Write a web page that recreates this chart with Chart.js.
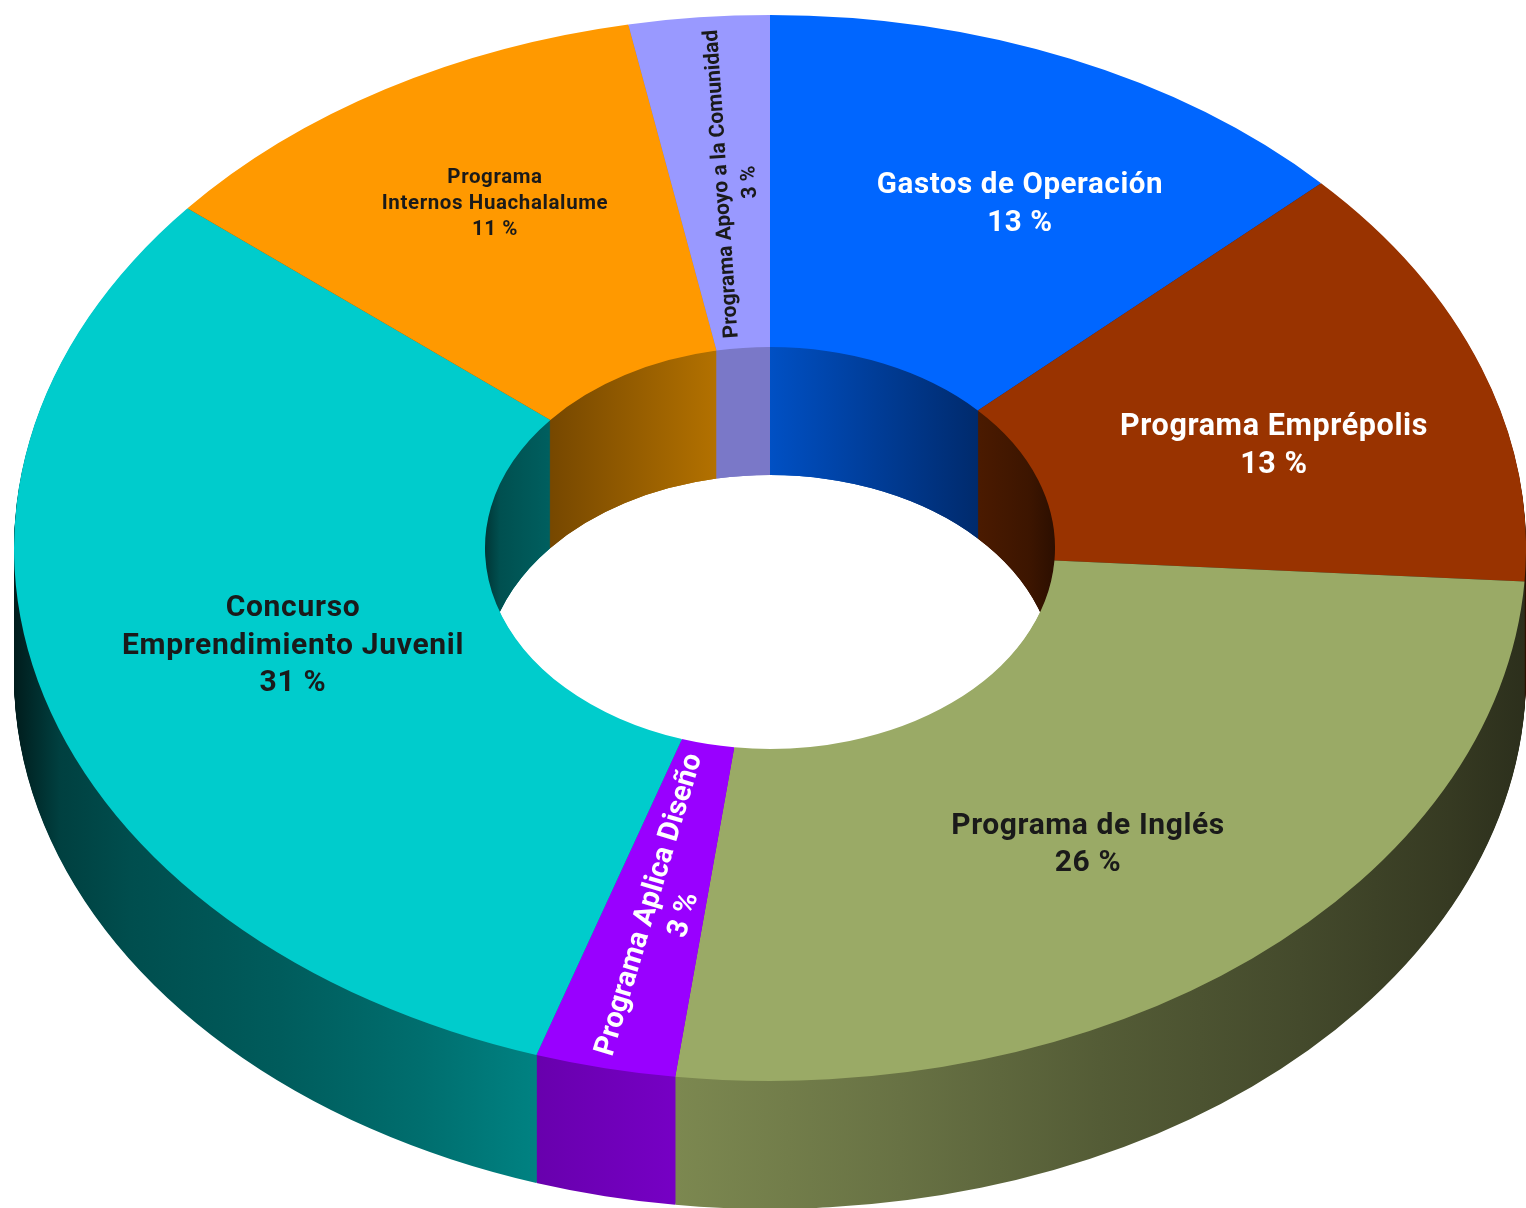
<!DOCTYPE html>
<html lang="es">
<head>
<meta charset="utf-8">
<title>Distribución de programas</title>
<script src="https://cdn.jsdelivr.net/npm/chart.js@4"></script>
<style>
  html, body { margin: 0; padding: 0; background: #ffffff; }
  canvas { display: block; }
</style>
</head>
<body>
<canvas id="ringChart" width="1526" height="1208"></canvas>
<script>
// =====================
// Data
// =====================

const categories = [
  ['Gastos de Operación'],
  ['Programa Emprépolis'],
  ['Programa de Inglés'],
  ['Programa Aplica Diseño'],
  ['Concurso', 'Emprendimiento Juvenil'],
  ['Programa', 'Internos Huachalalume'],
  ['Programa Apoyo a la Comunidad']
];
const shares = [13, 13, 26, 3, 31, 11, 3];

// =====================
// Styles and layout
// =====================

const topColors = ['#0066ff', '#993300', '#9aaa66', '#9900ff', '#00cccc', '#ff9900', '#9999ff'];

// wall shading, as [pixel x, colour] stops per slice
const outerWalls = [
  [[770, '#0050c0'], [980, '#002c70']],
  [[980, '#4a1a00'], [1058, '#2e1000']],
  [[676, '#7c8850'], [900, '#687244'], [1100, '#545c36'], [1300, '#444a2c'], [1450, '#363a22'], [1526, '#2c2f1c']],
  [[537, '#6800ad'], [676, '#7600c4']],
  [[14, '#001c1c'], [60, '#004040'], [130, '#004e4e'], [280, '#005c5c'], [420, '#006e6e'], [537, '#008282']],
  [[552, '#7a4a00'], [720, '#b07000']],
  [[720, '#7a78c8'], [770, '#7a78c8']]
];
const innerWalls = [
  [[770, '#0050c4'], [880, '#003c96'], [980, '#002a6c']],
  [[980, '#4a1a00'], [1030, '#3c1500'], [1058, '#2a0e00']],
  [[676, '#7c8850'], [1058, '#40462a']],
  [[537, '#6800ad'], [676, '#7600c4']],
  [[485, '#003636'], [500, '#005050'], [552, '#006060']],
  [[552, '#774800'], [720, '#b47200']],
  [[720, '#7a78c8'], [770, '#7a78c8']]
];

const ring = { cx: 770, cy: 548, rx: 756, ry: 533, depth: 128 };
const FONT = '"Roboto", "DejaVu Sans", sans-serif';

const labelSpots = [
  { x: 1020, y: 205, size: 29.5, gap: 38, color: '#ffffff', track: 0.6 },
  { x: 1274, y: 446, size: 30.5, gap: 38, color: '#ffffff', track: 0.6 },
  { x: 1088, y: 845, size: 30, gap: 37, color: '#1a1a1a', track: 0.6 },
  { x: 667, y: 910, size: 29, gap: 36, color: '#ffffff', rot: -73.4, track: 0 },
  { x: 293, y: 646, size: 30, gap: 37.5, color: '#1a1a1a', track: 0.7 },
  { x: 495, y: 204, size: 20.5, gap: 26, color: '#1a1a1a', track: 0.6 },
  { x: 736, y: 183, size: 21, gap: 28, color: '#1a1a1a', rot: -93.85, track: 0 }
];

// =====================
// Plugins
// =====================

function squash(ctx, arc) {
  const sx = ring.rx / arc.outerRadius;
  const sy = ring.ry / arc.outerRadius;
  ctx.translate(ring.cx, ring.cy);
  ctx.scale(sx, sy);
  ctx.translate(-arc.x, -arc.y);
  return { sx, sy };
}

function wallGradient(ctx, arc, sx, stops) {
  const toLocal = px => arc.x + (px - ring.cx) / sx;
  const first = stops[0][0];
  const last = stops[stops.length - 1][0];
  const g = ctx.createLinearGradient(toLocal(first), 0, toLocal(last), 0);
  stops.forEach(([px, colour]) => g.addColorStop((px - first) / (last - first), colour));
  return g;
}

function drawWalls(ctx, arcs, sx, sy, palette) {
  const copies = arcs.map((arc, i) => {
    const copy = Object.create(arc);
    copy.options = { ...arc.options, backgroundColor: wallGradient(ctx, arc, sx, palette[i]) };
    return copy;
  });
  for (let d = ring.depth; d >= 1; d--) {
    ctx.save();
    ctx.translate(0, d / sy);
    copies.forEach(copy => copy.draw(ctx));
    ctx.restore();
  }
}

// squashes the ring into an ellipse and extrudes the side walls under it
const extrudePlugin = {
  id: 'extrude',
  beforeDatasetsDraw(chart) {
    const ctx = chart.ctx;
    const arcs = chart.getDatasetMeta(0).data;
    const first = arcs[0];
    ctx.save();
    const { sx, sy } = squash(ctx, first);

    drawWalls(ctx, arcs, sx, sy, outerWalls);

    // the far side of the hole has its own, separate shading
    ctx.save();
    ctx.beginPath();
    ctx.arc(first.x, first.y, first.innerRadius, 0, Math.PI * 2);
    ctx.clip();
    drawWalls(ctx, arcs, sx, sy, innerWalls);
    ctx.restore();
  },
  afterDatasetsDraw(chart) {
    chart.ctx.restore();
  }
};

const labelPlugin = {
  id: 'sliceLabels',
  afterDraw(chart) {
    const ctx = chart.ctx;
    categories.forEach((lines, i) => {
      const spot = labelSpots[i];
      const all = [...lines, shares[i] + ' %'];
      ctx.save();
      ctx.translate(spot.x, spot.y);
      if (spot.rot) ctx.rotate(spot.rot * Math.PI / 180);
      ctx.font = `bold ${spot.size}px ${FONT}`;
      ctx.letterSpacing = spot.track + 'px';
      ctx.fillStyle = spot.color;
      ctx.textAlign = 'center';
      ctx.textBaseline = 'middle';
      all.forEach((line, n) => {
        ctx.fillText(line, 0, (n - (all.length - 1) / 2) * spot.gap);
      });
      ctx.restore();
    });
  }
};

// =====================
// Chart
// =====================

new Chart(document.getElementById('ringChart'), {
  type: 'doughnut',
  data: {
    labels: categories.map(lines => lines.join(' ')),
    datasets: [{
      data: shares,
      backgroundColor: topColors,
      borderWidth: 0,
      clip: false
    }]
  },
  options: {
    responsive: false,
    animation: false,
    cutout: '37.7%',
    layout: { padding: 0 },
    plugins: {
      legend: { display: false },
      tooltip: { enabled: false }
    }
  },
  plugins: [extrudePlugin, labelPlugin]
});
</script>
</body>
</html>
